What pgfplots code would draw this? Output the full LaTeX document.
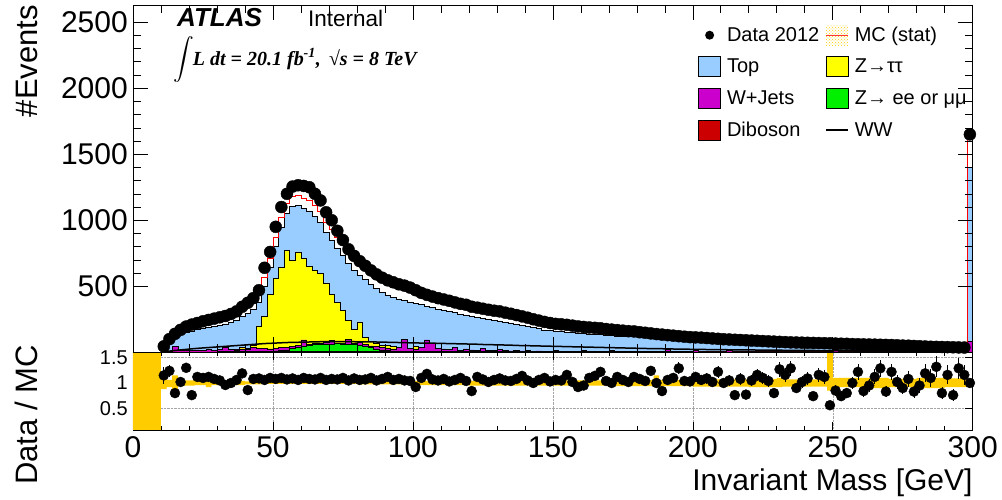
\documentclass[border=0pt]{standalone}
\usepackage{exscale}
\usepackage{pgfplots}
\pgfplotsset{compat=1.18}
\usepackage{pgfplotstable}
\usepgfplotslibrary{fillbetween}
\usetikzlibrary{patterns}
\usepackage{fontspec}
\setmainfont{Liberation Sans}
\newfontfamily\timesfont{Liberation Serif}
\definecolor{topc}{RGB}{153,204,255}
\definecolor{zttc}{RGB}{255,255,0}
\definecolor{wjc}{RGB}{204,0,204}
\definecolor{zllc}{RGB}{0,240,0}
\definecolor{dibc}{RGB}{204,0,0}
\definecolor{bandc}{RGB}{255,204,0}
\newcommand\fT{\fontsize{30}{36}\selectfont}
\newcommand\fY{\fontsize{31}{37}\selectfont}
\newcommand\fS{\fontsize{20}{24}\selectfont}
\pgfplotsset{
  boxlegend/.style={legend image code/.code={\draw[##1, line width=0.8pt] (0pt,-10pt) rectangle (22pt,10pt);}},
}
% x = left bin edge, d = data, r = data/MC, e = ratio error, top = stack total, ww = WW
\pgfplotstableread{
x d r e top ww
10 45 1.15 0.17 30 5
12 100 1.24 0.12 75 9
14 140 0.80 0.07 110 14
16 170 1.02 0.08 135 18
18 195 1.30 0.09 150 22
20 210 0.76 0.05 160 26
22 222 1.12 0.075 172 30
24 235 1.10 0.07 182 33
26 245 1.12 0.07 190 36
28 255 1.08 0.068 198 39
30 265 1.05 0.065 206 42
32 275 0.96 0.058 215 45
34 290 1.00 0.059 228 48
36 310 1.06 0.06 245 51
38 345 1.19 0.064 270 54
40 375 0.86 0.044 295 57
42 410 1.08 0.053 325 60
44 470 1.09 0.05 375 63
46 640 1.06 0.042 500 66
48 760 1.10 0.04 640 68
50 950 1.08 0.035 800 70
52 1100 1.10 0.033 950 72
54 1200 1.07 0.031 1050 74
56 1255 1.09 0.031 1105 75
58 1265 1.06 0.03 1110 76
60 1260 1.10 0.031 1090 77
62 1250 1.08 0.031 1070 78
64 1200 1.07 0.031 1030 79
66 1150 1.10 0.032 985 80
68 1060 1.06 0.033 905 80
70 1000 1.08 0.034 850 80
72 920 1.07 0.035 790 80
74 850 1.10 0.038 735 80
76 780 1.05 0.038 675 80
78 730 1.09 0.04 620 80
80 690 1.06 0.04 585 79
82 655 1.07 0.042 550 79
84 620 1.10 0.044 515 78
86 590 1.05 0.043 485 78
88 565 1.08 0.045 455 77
90 545 1.12 0.048 430 76
92 530 1.06 0.046 415 75
94 515 1.08 0.048 405 74
96 505 1.05 0.047 395 73
98 490 1.04 0.047 382 72
100 470 0.92 0.042 372 71
102 450 1.10 0.052 360 70
104 435 1.18 0.057 348 69
106 422 1.07 0.052 337 69
108 410 1.05 0.052 327 68
110 400 1.08 0.054 318 67
112 390 1.03 0.052 310 66
114 378 1.06 0.055 300 65
116 367 1.10 0.057 290 64
118 360 1.04 0.055 283 63
120 345 0.84 0.045 270 62
122 338 1.12 0.061 262 61
124 330 1.07 0.059 255 59
126 322 1.02 0.057 248 58
128 315 1.06 0.06 242 57
130 310 1.09 0.062 237 56
132 300 1.05 0.061 229 55
134 292 1.04 0.061 222 54
136 282 1.08 0.064 214 52
138 272 1.14 0.069 206 51
140 262 1.05 0.065 197 50
142 250 1.00 0.063 187 49
144 240 1.06 0.068 178 48
146 230 1.10 0.073 170 47
148 222 1.03 0.069 163 46
150 215 1.06 0.072 158 45
152 212 1.05 0.072 156 44
154 208 1.16 0.08 153 43
156 202 1.02 0.072 149 42
158 196 0.92 0.066 144 41
160 192 0.95 0.069 141 40
162 188 1.10 0.08 138 39
164 185 1.14 0.084 137 38
166 182 1.22 0.09 135 37
168 176 1.04 0.078 130 36
170 172 1.00 0.076 127 35
172 168 1.12 0.086 124 34
174 164 1.06 0.083 122 33
176 160 1.02 0.081 119 32
178 158 1.12 0.089 118 31
180 152 1.08 0.088 113 30
182 148 1.04 0.085 111 29
184 143 1.24 0.1 107 28
186 138 1.00 0.085 103 27
188 134 0.84 0.073 99 27
190 130 1.06 0.093 97 26
192 126 1.10 0.098 94 25
194 122 1.29 0.117 91 24
196 118 1.04 0.096 87 24
198 115 1.03 0.096 85 23
200 113 1.12 0.105 83 22
202 111 1.06 0.1 81 22
204 108 1.09 0.105 79 21
206 105 1.02 0.1 77 21
208 102 1.22 0.12 75 20
210 99 1.00 0.1 73 20
212 97 1.05 0.107 71 19
214 95 0.76 0.078 70 19
216 93 1.08 0.112 68 18
218 91 0.77 0.081 67 18
220 89 1.05 0.111 66 18
222 87 1.16 0.124 64 17
224 85 1.10 0.119 63 17
226 83 1.04 0.114 62 16
228 81 0.80 0.089 60 16
230 79 1.27 0.143 59 16
232 77 1.16 0.132 57 15
234 75 1.29 0.149 56 15
236 74 0.90 0.105 55 15
238 73 1.02 0.119 54 14
240 72 1.09 0.128 54 14
242 71 0.74 0.088 53 14
244 70 1.16 0.139 52 13
246 69 1.12 0.135 51 13
248 68 0.56 0.068 51 13
250 66 0.85 0.105 50 12
252 65 0.74 0.092 49 12
254 64 0.80 0.1 48 12
256 62 1.00 0.127 47 12
258 61 1.22 0.156 46 11
260 60 0.84 0.108 45 11
262 59 0.95 0.124 44 11
264 58 1.12 0.147 44 11
266 57 1.29 0.171 43 10
268 56 0.83 0.111 42 10
270 55 1.22 0.165 42 10
272 53 1.02 0.14 41 10
274 51 0.90 0.126 40 10
276 50 1.08 0.153 39 9
278 48 0.83 0.12 38 9
280 46 0.95 0.14 37 9
282 44 1.19 0.179 36 9
284 42 1.10 0.17 35 9
286 41 1.32 0.206 34 8
288 40 0.80 0.126 33 8
290 39 1.16 0.186 32 8
292 38 0.76 0.123 31 8
294 37 1.29 0.212 31 8
296 36 1.16 0.193 30 7
298 1650 1.00 0.025 1400 250
300 1650 1.00 0.025 1400 250
}\maintab
% Z->tautau (cumulative top)
\pgfplotstableread{
x y
30 12
32 15
34 20
36 22
38 40
40 30
42 55
44 200
46 270
48 440
50 560
52 640
54 770
56 700
58 760
60 710
62 650
64 620
66 595
68 525
70 440
72 380
74 320
76 240
78 175
80 230
82 115
84 80
86 65
88 55
90 50
92 45
94 40
96 35
98 30
100 45
102 28
104 25
106 30
108 22
110 20
112 25
114 18
116 15
118 15
120 12
122 10
124 8
126 8
128 6
130 5
132 5
134 5
}\ztttab
% W+Jets (cumulative top)
\pgfplotstableread{
x y
10 8
12 10
14 45
16 12
18 15
20 12
22 18
24 14
26 20
28 16
30 22
32 40
34 20
36 18
38 25
40 22
42 35
44 30
46 28
48 25
50 30
52 35
54 40
56 45
58 55
60 95
62 60
64 70
66 68
68 75
70 90
72 72
74 70
76 100
78 65
80 75
82 60
84 48
86 45
88 40
90 30
92 25
94 35
96 100
98 30
100 25
102 35
104 95
106 70
108 30
110 25
112 20
114 40
116 15
118 25
120 18
122 15
124 30
126 12
128 15
130 20
132 12
134 10
136 14
138 10
140 12
142 9
144 10
146 8
150 12
152 8
160 15
162 8
170 12
172 8
190 25
192 8
200 15
202 7
212 12
214 7
250 20
252 6
296 6
298 80
300 80
}\wjtab
% Z->ee/mumu (cumulative top)
\pgfplotstableread{
x y
40 6
42 6
44 7
46 8
48 8
50 10
52 12
54 18
56 30
58 40
60 48
62 52
64 58
66 60
68 64
70 60
72 66
74 64
76 60
78 58
80 52
82 44
84 35
86 26
88 18
90 12
92 10
94 8
96 7
98 6
100 6
}\zlltab
% Diboson
\pgfplotstableread{
x y
10 3
20 4
30 5
50 6
100 6
150 5
200 4
250 3
298 3
300 3
}\dibtab
% MC stat band in the ratio
\pgfplotstableread{
x lo hi
0 0 2
10 0.88 1.12
12 0.92 1.06
14 0.85 1.15
16 0.94 1.06
18 0.95 1.05
22 0.96 1.04
26 0.92 1.10
28 0.96 1.04
40 0.97 1.03
46 0.98 1.02
80 0.97 1.03
100 0.96 1.04
110 0.96 1.05
120 0.95 1.04
150 0.95 1.05
170 0.94 1.06
186 0.92 1.15
188 0.94 1.06
200 0.93 1.07
220 0.92 1.08
230 0.92 1.10
232 0.93 1.07
248 0.85 1.61
250 0.92 1.10
260 0.90 1.10
270 0.92 1.08
280 0.90 1.10
290 0.92 1.09
298 0.97 1.03
300 0.97 1.03
}\bandtab
\begin{document}
\begin{tikzpicture}
% ---------------- ratio panel ----------------
\begin{axis}[
  at={(0,0)}, anchor=south west,
  scale only axis, width=839.7pt, height=77.7pt,
  xmin=0, xmax=300, ymin=0.07, ymax=1.607,
  xtick={0,50,...,300}, minor x tick num=4,
  ytick={0.5,1,1.5},
  tick align=inside, major tick length=8pt, minor tick length=4pt,
  every tick/.style={black, line width=0.6pt},
  axis line style={line width=0.7pt},
  /pgf/number format/assume math mode=true,
  xticklabel style={font=\fT, inner sep=0pt, yshift=-6pt},
  yticklabel style={font=\fS, inner sep=0pt, xshift=-5pt},
  grid=major, major grid style={densely dotted, gray!70, line width=0.5pt},
  xlabel={Invariant Mass [GeV]},
  xlabel style={font=\fT, inner sep=0pt, at={(axis description cs:1,-0.785)}, anchor=base east},
  ylabel={Data / MC},
  ylabel style={font=\fY, inner sep=0pt, at={(axis description cs:-0.1143,1.094)}, anchor=base east},
]
\addplot[name path=up, draw=none, const plot mark left, forget plot] table[x=x, y=hi] {\bandtab};
\addplot[name path=dn, draw=none, const plot mark left, forget plot] table[x=x, y=lo] {\bandtab};
\addplot[fill=bandc, draw=none, forget plot] fill between[of=up and dn];
\addplot[only marks, mark=*, mark size=5pt, black, forget plot,
  restrict x to domain=0:299.5,
  error bars/.cd, y dir=both, y explicit, error mark=none,
  error bar style={line width=0.8pt, black}]
  table[x expr=\thisrow{x}+1, y=r, y error=e] {\maintab};
\end{axis}
% ---------------- main panel ----------------
\begin{axis}[
  at={(0,77.7pt)}, anchor=south west,
  scale only axis, width=839.7pt, height=347.3pt,
  xmin=0, xmax=300, ymin=0, ymax=2630,
  xtick={0,50,...,300}, minor x tick num=4, xticklabels={},
  ytick={500,1000,1500,2000,2500}, minor y tick num=4,
  scaled y ticks=false,
  tick align=inside, major tick length=15pt, minor tick length=8pt,
  every tick/.style={black, line width=0.6pt},
  axis line style={line width=0.7pt},
  axis on top,
  /pgf/number format/assume math mode=true,
  /pgf/number format/1000 sep={},
  yticklabel style={font=\fT, inner sep=0pt, xshift=-5pt},
  ylabel={\#Events},
  ylabel style={font=\fY, inner sep=0pt, at={(axis description cs:-0.1143,1)}, anchor=base east},
  legend columns=2,
  legend cell align=left,
  legend style={at={(axis description cs:0.6729,0.9424)}, anchor=north west,
    draw=none, fill=none, font=\fS, column sep=5pt, row sep=11pt, inner sep=0pt,
    nodes={inner sep=1pt}},
]
\addlegendimage{legend image code/.code={\path[draw=none, fill=none] (0pt,-10pt) rectangle (22pt,10pt); \fill[black, draw=none] (11pt,0pt) circle (4.5pt);}}
\addlegendentry{Data 2012}
\addlegendimage{legend image code/.code={\fill[draw=none, pattern=crosshatch dots, pattern color=bandc] (0pt,-10pt) rectangle (22pt,10pt); \draw[red!80, line width=1pt] (0pt,0pt)--(22pt,0pt);}}
\addlegendentry{MC (stat)}
\addlegendimage{boxlegend, fill=topc, draw=black}
\addlegendentry{Top}
\addlegendimage{boxlegend, fill=zttc, draw=black}
\addlegendentry{Z→ττ}
\addlegendimage{boxlegend, fill=wjc, draw=black}
\addlegendentry{W+Jets}
\addlegendimage{boxlegend, fill=zllc, draw=black}
\addlegendentry{Z→ ee or μμ}
\addlegendimage{boxlegend, fill=dibc, draw=black}
\addlegendentry{Diboson}
\addlegendimage{legend image code/.code={\path[draw=none, fill=none] (0pt,-10pt) rectangle (22pt,10pt); \draw[black, line width=1.5pt] (0pt,0pt)--(22pt,0pt);}}
\addlegendentry{WW}
% stacked histograms (cumulative, drawn from the top layer down)
\addplot[const plot mark left, fill=topc, draw=black, line width=0.6pt, forget plot] table[x=x, y=top] {\maintab} \closedcycle;
\addplot[const plot mark left, fill=zttc, draw=black, line width=0.6pt, forget plot] table[x=x, y=y] {\ztttab} \closedcycle;
\addplot[const plot mark left, fill=wjc, draw=black, line width=0.5pt, forget plot] table[x=x, y=y] {\wjtab} \closedcycle;
\addplot[const plot mark left, fill=zllc, draw=black, line width=0.5pt, forget plot] table[x=x, y=y] {\zlltab} \closedcycle;
\addplot[const plot mark left, fill=dibc, draw=black, line width=0.5pt, forget plot] table[x=x, y=y] {\dibtab} \closedcycle;
% WW
\addplot[smooth, black, line width=1.5pt, forget plot, restrict x to domain=0:297.5] table[x expr=\thisrow{x}+1, y=ww] {\maintab};
% MC total
\addplot[const plot mark left, red, line width=0.8pt, forget plot] table[x=x, y expr=\thisrow{top}+\thisrow{ww}] {\maintab};
% data
\addplot[only marks, mark=*, mark size=6pt, black, forget plot, restrict x to domain=0:299.5] table[x expr=\thisrow{x}+1, y=d] {\maintab};
% labels
\node[anchor=base west, inner sep=0pt, font=\fontsize{26}{30}\selectfont\bfseries\itshape] at (axis description cs:0.0524,0.9367) {ATLAS};
\node[anchor=base west, inner sep=0pt, font=\fontsize{22.5}{27}\selectfont] at (axis description cs:0.2084,0.9367) {Internal};
\node[anchor=base west, inner sep=0pt, font=\fontsize{20}{24}\selectfont\timesfont\bfseries\itshape] at (axis description cs:0.0476,0.8272) {\smash{$\displaystyle\int$}\hspace{-1pt}L dt = 20.1 fb\textsuperscript{-1},\hspace{0.4em}√s = 8 TeV};
\end{axis}
\pgfresetboundingbox
\path (-133pt,-70pt) rectangle (869pt,430pt);
\end{tikzpicture}
\end{document}
